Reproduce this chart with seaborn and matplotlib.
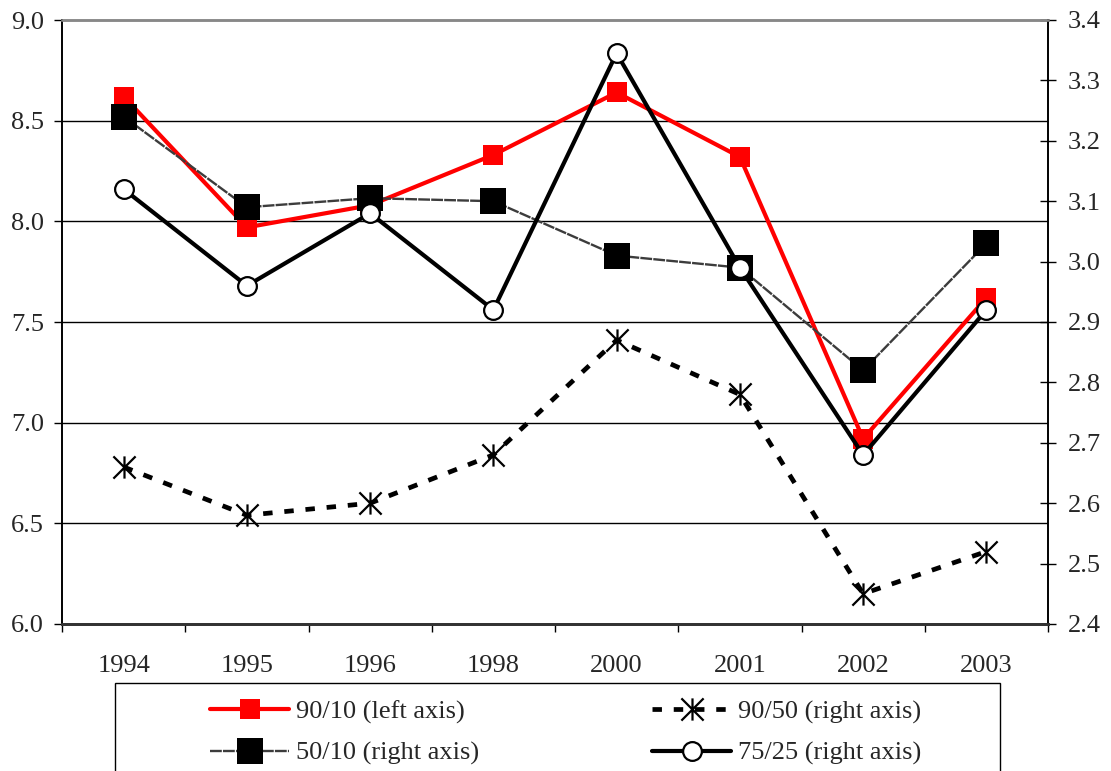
import matplotlib
matplotlib.use("Agg")
import matplotlib.pyplot as plt
from matplotlib.patches import Rectangle
from matplotlib.path import Path
from matplotlib.ticker import FixedLocator, MultipleLocator, FormatStrFormatter
import seaborn as sns

# Survey years and inequality ratios
years = ["1994", "1995", "1996", "1998", "2000", "2001", "2002", "2003"]
ratio_90_10 = [8.62, 7.97, 8.08, 8.33, 8.64, 8.32, 6.92, 7.62]   # left axis
ratio_50_10 = [3.24, 3.09, 3.105, 3.10, 3.01, 2.99, 2.82, 3.03]  # right axis
ratio_90_50 = [2.66, 2.58, 2.60, 2.68, 2.87, 2.78, 2.45, 2.52]   # right axis
ratio_75_25 = [3.12, 2.96, 3.08, 2.92, 3.345, 2.99, 2.68, 2.92]  # right axis

labels = ["90/10 (left axis)", "50/10 (right axis)",
          "90/50 (right axis)", "75/25 (right axis)"]

# Asterisk marker: a vertical bar crossed by an X
star_marker = Path(
    [(0, -1), (0, 1), (-1, -1), (1, 1), (-1, 1), (1, -1)],
    [Path.MOVETO, Path.LINETO, Path.MOVETO, Path.LINETO, Path.MOVETO, Path.LINETO],
)

sns.set_theme(style="white")
plt.rcParams["font.family"] = ["Liberation Serif", "DejaVu Serif"]
plt.rcParams["font.size"] = 19

fig = plt.figure(figsize=(11.11, 7.71), dpi=100)
ax = fig.add_axes([62 / 1111, 1 - 624 / 771, (1048 - 62) / 1111, (624 - 20) / 771])
ax2 = ax.twinx()

# Left axis: 90/10
sns.lineplot(x=years, y=ratio_90_10, ax=ax, sort=False, color="#ff0000",
             linewidth=3.0, marker="s", markersize=14.5, markeredgewidth=0,
             markerfacecolor="#ff0000", label=labels[0], zorder=3)

# Right axis series
sns.lineplot(x=years, y=ratio_50_10, ax=ax2, sort=False, color="#3c3c3c",
             linewidth=1.7, linestyle=(0, (5, 0.5)), marker="s", markersize=19,
             markeredgewidth=0, markerfacecolor="black", label=labels[1], zorder=3)
sns.lineplot(x=years, y=ratio_90_50, ax=ax2, sort=False, color="black",
             linewidth=3.4, linestyle=(0, (2.0, 2.5)), marker=star_marker,
             markersize=16, markeredgewidth=1.6, markeredgecolor="black",
             label=labels[2], zorder=4)
sns.lineplot(x=years, y=ratio_75_25, ax=ax2, sort=False, color="black",
             linewidth=3.0, marker="o", markersize=13.5, markeredgewidth=1.6,
             markeredgecolor="black", markerfacecolor="white",
             label=labels[3], zorder=5)

for a in (ax, ax2):
    if a.get_legend() is not None:
        a.get_legend().remove()

# Axis ranges and ticks
ax.set_xlim(-0.5, len(years) - 0.5)
ax.set_ylim(6.0, 9.0)
ax2.set_ylim(2.4, 3.4)
ax.yaxis.set_major_locator(MultipleLocator(0.5))
ax.yaxis.set_major_formatter(FormatStrFormatter("%.1f"))
ax2.yaxis.set_major_locator(MultipleLocator(0.1))
ax2.yaxis.set_major_formatter(FormatStrFormatter("%.1f"))

ax.xaxis.set_minor_locator(FixedLocator([i - 0.5 for i in range(len(years) + 1)]))
ax.tick_params(axis="x", which="major", length=0, pad=22, labelsize=19)
ax.tick_params(axis="x", which="minor", length=6, width=1, direction="out",
               color="black", bottom=True)
ax.tick_params(axis="y", which="major", length=6, width=1, direction="out",
               color="black", left=True, pad=7, labelsize=19)
ax2.tick_params(axis="y", which="major", length=12, width=1, direction="inout",
                color="black", right=True, pad=8, labelsize=19)
ax2.set_ylabel("")
ax.set_ylabel("")

# Horizontal gridlines from the left axis
ax.grid(False)
ax2.grid(False)
for yv in [6.5, 7.0, 7.5, 8.0, 8.5]:
    ax.axhline(yv, color="black", linewidth=1.0, zorder=0)

for a in (ax, ax2):
    for side in ("left", "right", "top", "bottom"):
        a.spines[side].set_visible(True)
    a.spines["left"].set_color("black")
    a.spines["left"].set_linewidth(1.2)
    a.spines["right"].set_color("black")
    a.spines["right"].set_linewidth(1.2)
    a.spines["top"].set_color("#888888")
    a.spines["top"].set_linewidth(1.8)
    a.spines["bottom"].set_color("#333333")
    a.spines["bottom"].set_linewidth(2.0)

# Legend frame running off the bottom of the figure
fig.patches.append(Rectangle((115 / 1111, -0.05), 885 / 1111, 0.05 + (1 - 683 / 771),
                             transform=fig.transFigure, fill=False,
                             edgecolor="black", linewidth=1.0, zorder=1))

h1, l1 = ax.get_legend_handles_labels()
h2, l2 = ax2.get_legend_handles_labels()
handles = dict(zip(l1 + l2, h1 + h2))

leg_kw = dict(loc="upper left", frameon=False, borderpad=0, borderaxespad=0,
              handlelength=3.0, handletextpad=0.25, labelspacing=0.66,
              fontsize=19)
fig.legend([handles[labels[0]], handles[labels[1]]], labels[:2],
           bbox_to_anchor=(210 / 1111, 1 - 700 / 771), **leg_kw)
fig.legend([handles[labels[2]], handles[labels[3]]], labels[2:],
           bbox_to_anchor=(652 / 1111, 1 - 700 / 771), **leg_kw)

fig.savefig("out.png", dpi=100)
